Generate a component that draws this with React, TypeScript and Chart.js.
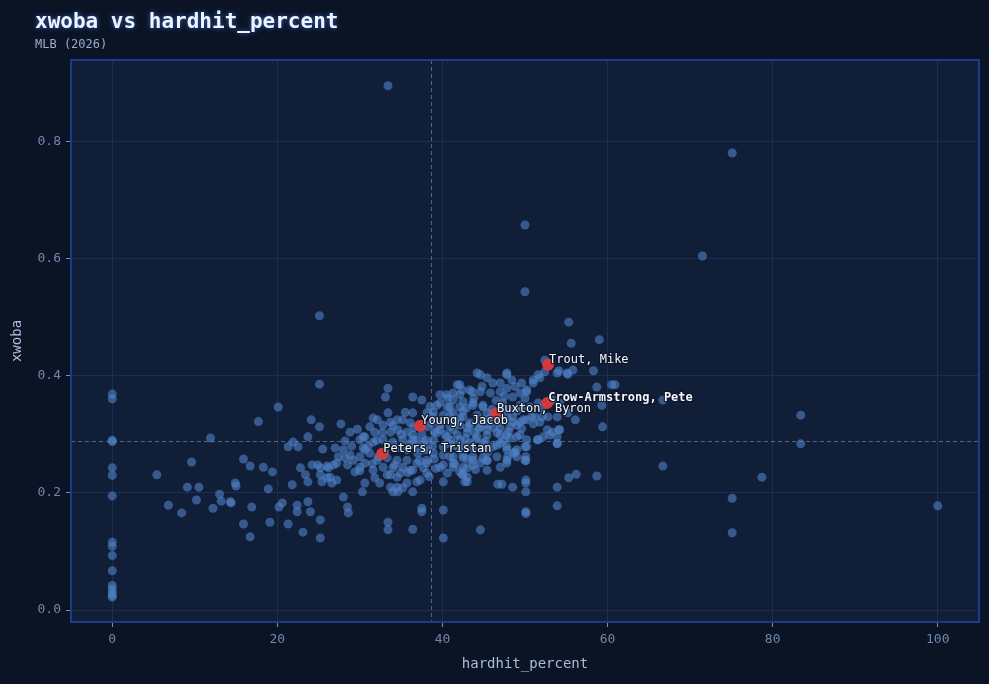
import React, { useEffect, useRef } from "react";
import { Chart, registerables } from "chart.js";

Chart.register(...registerables);

// ---- data ----------------------------------------------------------------

const xTickValues = [0, 20, 40, 60, 80, 100];
const yTickValues = [0, 0.2, 0.4, 0.6, 0.8];

// league averages shown as dashed reference lines
const meanHardhit = 38.6;
const meanXwoba = 0.289;

// batters with no hard-hit balls (hardhit_percent = 0)
const zeroHardhitXwoba = [
  0.369, 0.361, 0.29, 0.288, 0.243, 0.23, 0.195, 0.116, 0.109, 0.093, 0.067,
  0.042, 0.036, 0.03, 0.025, 0.022,
];

// [hardhit_percent, xwoba]
const lowHardhit: [number, number][] = [
  [5.4, 0.231], [6.8, 0.179], [8.4, 0.166], [9.1, 0.21], [9.6, 0.253], [10.2, 0.188],
  [10.5, 0.21], [11.9, 0.294], [12.2, 0.174], [13.0, 0.198], [13.2, 0.186], [14.3, 0.185],
  [14.4, 0.183], [14.9, 0.217], [15.0, 0.212], [15.9, 0.258], [15.9, 0.147], [16.7, 0.246],
  [16.7, 0.125], [16.9, 0.176], [17.7, 0.322], [18.3, 0.244], [18.9, 0.207], [19.1, 0.15],
  [19.4, 0.236], [20.1, 0.347], [20.2, 0.176], [20.6, 0.183], [21.3, 0.147], [21.8, 0.214],
  [21.9, 0.287], [21.3, 0.279], [22.5, 0.279], [22.8, 0.243], [22.4, 0.179], [22.4, 0.168],
  [23.1, 0.133], [23.4, 0.231], [23.7, 0.219], [23.7, 0.185], [23.7, 0.296], [24.0, 0.168],
  [24.1, 0.325], [24.2, 0.248], [24.9, 0.248], [25.1, 0.313], [25.1, 0.386], [25.1, 0.503],
  [25.2, 0.243], [25.2, 0.231], [25.4, 0.219], [25.2, 0.154], [25.2, 0.123], [25.5, 0.275],
  [26.0, 0.246], [26.0, 0.226], [26.2, 0.243], [26.4, 0.227], [26.6, 0.217], [26.8, 0.248],
  [27.0, 0.277], [27.2, 0.222], [27.2, 0.251], [27.4, 0.262], [27.7, 0.318], [28.0, 0.274],
  [28.0, 0.193], [28.2, 0.26], [28.2, 0.289], [28.5, 0.176], [28.5, 0.248], [28.6, 0.166],
  [28.8, 0.265], [28.8, 0.304], [29.2, 0.256], [29.4, 0.236], [29.7, 0.309], [30.0, 0.262],
  [30.0, 0.244], [30.3, 0.202], [30.6, 0.217], [30.6, 0.274], [30.6, 0.296], [31.2, 0.268],
  [33.4, 0.896], [33.4, 0.15], [33.4, 0.137],
];

const coreHardhit: [number, number][] = [
  [44.6, 0.402], [45.4, 0.397], [47.8, 0.402], [48.4, 0.393], [49.6, 0.388], [51.0, 0.393],
  [51.6, 0.402], [52.4, 0.407], [53.9, 0.405], [55.1, 0.405], [55.8, 0.41],
  [41.8, 0.385], [42.4, 0.376], [43.6, 0.373], [45.8, 0.371], [47.0, 0.373], [49.4, 0.371], [50.2, 0.376],
  [39.7, 0.354], [40.6, 0.347], [41.3, 0.359], [42.5, 0.356], [43.7, 0.354], [44.9, 0.35],
  [47.3, 0.354], [48.2, 0.345], [49.4, 0.35], [50.6, 0.347], [51.6, 0.354], [54.2, 0.354],
  [38.1, 0.337], [38.9, 0.33], [40.9, 0.333], [42.1, 0.328], [43.3, 0.32], [44.6, 0.32],
  [45.8, 0.328], [48.5, 0.321], [49.8, 0.325], [51.2, 0.33], [52.8, 0.33], [53.9, 0.33],
  [55.2, 0.337], [56.1, 0.325],
  [38.1, 0.313], [39.7, 0.308], [41.3, 0.308], [43.0, 0.311], [43.9, 0.304], [45.4, 0.308],
  [47.0, 0.299], [48.2, 0.294], [49.4, 0.299], [51.6, 0.291], [53.3, 0.304], [54.2, 0.308], [53.9, 0.285],
  [38.9, 0.291], [40.6, 0.285], [42.1, 0.291], [43.3, 0.285], [44.9, 0.285], [46.6, 0.282],
  [47.8, 0.274], [50.0, 0.279],
  [37.7, 0.274], [38.9, 0.268], [40.9, 0.262], [42.5, 0.26], [43.7, 0.256], [45.4, 0.256],
  [46.6, 0.262], [47.8, 0.251], [50.0, 0.256],
  [38.1, 0.251], [39.7, 0.244], [41.3, 0.244], [43.0, 0.243], [44.6, 0.251], [47.0, 0.244],
  [38.1, 0.234], [40.1, 0.219], [42.4, 0.231], [42.7, 0.219],
  [32.1, 0.325], [32.8, 0.316], [33.7, 0.321], [35.2, 0.325], [36.1, 0.32],
  [31.8, 0.304], [32.7, 0.303], [33.7, 0.304], [34.6, 0.308], [35.7, 0.304], [36.4, 0.299],
  [31.6, 0.287], [32.8, 0.291], [34.0, 0.287], [35.2, 0.291], [36.4, 0.291], [37.7, 0.287],
  [30.4, 0.277], [34.5, 0.277], [35.7, 0.274], [36.9, 0.277], [38.1, 0.274],
  [32.1, 0.256], [33.3, 0.26], [34.5, 0.256], [35.7, 0.256], [36.9, 0.251], [38.1, 0.256],
  [31.6, 0.239], [32.8, 0.244], [34.0, 0.243], [35.2, 0.244], [36.4, 0.239], [37.7, 0.243],
  [31.8, 0.226], [33.3, 0.231], [34.5, 0.227], [35.7, 0.217], [36.9, 0.219],
  [34.5, 0.21], [35.2, 0.209], [36.4, 0.202], [34.6, 0.202],
  [31.2, 0.313], [30.4, 0.296], [30.0, 0.291], [30.6, 0.251], [32.4, 0.217], [33.7, 0.21],
  [34.0, 0.202], [37.3, 0.222], [33.7, 0.231], [34.9, 0.234], [36.1, 0.239],
  [31.6, 0.328], [33.4, 0.379], [33.1, 0.364], [36.4, 0.364], [37.5, 0.359], [33.4, 0.337],
  [36.4, 0.337], [34.5, 0.325],
  [53.9, 0.296], [52.2, 0.296], [52.7, 0.308], [51.8, 0.321], [52.1, 0.33], [50.2, 0.325],
  [49.4, 0.321], [47.3, 0.342], [48.5, 0.364], [50.2, 0.373], [51.0, 0.388], [51.8, 0.397],
  [47.8, 0.379], [47.0, 0.388], [47.8, 0.405], [44.2, 0.405], [46.1, 0.388],
  [42.1, 0.385], [43.3, 0.376], [44.6, 0.373], [41.3, 0.371], [42.1, 0.368], [40.6, 0.362], [39.7, 0.368],
  [39.3, 0.35], [40.9, 0.347], [42.1, 0.347], [43.7, 0.35], [44.9, 0.347],
  [38.9, 0.338], [40.1, 0.333], [41.3, 0.337], [42.5, 0.33], [44.2, 0.333], [45.4, 0.337], [46.1, 0.33],
  [38.7, 0.32], [39.7, 0.316], [40.9, 0.313], [42.1, 0.316], [43.3, 0.316], [44.6, 0.313],
  [45.5, 0.316], [47.8, 0.33], [48.5, 0.33], [47.0, 0.311], [48.2, 0.313], [49.0, 0.316],
  [39.3, 0.303], [40.6, 0.296], [41.8, 0.299], [43.0, 0.303], [44.2, 0.296], [45.4, 0.299],
  [46.6, 0.303], [47.8, 0.299], [49.0, 0.296], [50.2, 0.291], [51.5, 0.291],
  [40.1, 0.279], [41.3, 0.282], [42.5, 0.279], [43.7, 0.277], [44.9, 0.274], [46.1, 0.279],
  [47.8, 0.279], [49.0, 0.274], [50.2, 0.279],
  [40.1, 0.265], [41.3, 0.262], [42.5, 0.265], [43.7, 0.262], [44.9, 0.26], [47.8, 0.256], [49.0, 0.262],
  [40.1, 0.248], [41.3, 0.251], [42.5, 0.244], [43.7, 0.248], [45.4, 0.239],
  [40.6, 0.234], [42.1, 0.236], [43.0, 0.227],
  [34.0, 0.315], [35.0, 0.3], [36.0, 0.283], [37.0, 0.268], [38.0, 0.29], [39.0, 0.305],
  [40.0, 0.322], [41.0, 0.29], [42.0, 0.275], [43.0, 0.258], [44.0, 0.292], [45.0, 0.325],
  [46.0, 0.343], [47.0, 0.322], [48.0, 0.305], [49.0, 0.34], [50.0, 0.362], [51.0, 0.318],
  [52.0, 0.345], [45.5, 0.27], [44.0, 0.24], [41.5, 0.25], [39.0, 0.258], [37.5, 0.3],
  [36.5, 0.312], [35.5, 0.338], [38.5, 0.348], [40.5, 0.368], [42.5, 0.34], [43.8, 0.362],
  [46.5, 0.358], [48.8, 0.382], [49.8, 0.345], [33.0, 0.27], [34.2, 0.248], [35.8, 0.235],
  [37.2, 0.255], [38.4, 0.228], [39.2, 0.242], [40.3, 0.3], [41.6, 0.32], [42.8, 0.293],
  [44.4, 0.31], [45.2, 0.288], [46.2, 0.312], [47.4, 0.29], [48.6, 0.268], [49.6, 0.31],
  [50.8, 0.33], [36.8, 0.29], [38.8, 0.28], [31.0, 0.28], [32.2, 0.262], [31.5, 0.25],
  [30.0, 0.238], [29.0, 0.28], [32.0, 0.29], [44.8, 0.382], [42.9, 0.345], [47.5, 0.365],
];

const highHardhit: [number, number][] = [
  [50.1, 0.262], [50.1, 0.255], [48.8, 0.27], [47.9, 0.262], [47.0, 0.285], [45.4, 0.255],
  [55.3, 0.492], [55.6, 0.456], [59.0, 0.462], [58.3, 0.409], [55.2, 0.403], [54.1, 0.409],
  [52.4, 0.427], [60.5, 0.385], [60.9, 0.385], [58.7, 0.381], [53.4, 0.359], [59.3, 0.35],
  [59.4, 0.313], [54.1, 0.308], [53.0, 0.299], [53.9, 0.284], [66.7, 0.359], [66.7, 0.246],
  [56.2, 0.232], [55.3, 0.226], [58.7, 0.229], [50.1, 0.222], [50.1, 0.217], [46.7, 0.215],
  [47.2, 0.215], [48.5, 0.21], [53.9, 0.21], [50.1, 0.202], [53.9, 0.178], [50.1, 0.168],
  [50.1, 0.165], [42.5, 0.232], [43.0, 0.219], [37.5, 0.174], [37.5, 0.168], [40.1, 0.171],
  [36.4, 0.138], [44.6, 0.137], [40.1, 0.123],
  [83.4, 0.333], [83.4, 0.284], [78.7, 0.227], [75.1, 0.191], [75.1, 0.132], [100, 0.178],
  [75.1, 0.781], [71.5, 0.605], [50.0, 0.658], [50.0, 0.544],
];

// highlighted players
const featuredNames = [
  "Trout, Mike",
  "Crow-Armstrong, Pete",
  "Buxton, Byron",
  "Young, Jacob",
  "Peters, Tristan",
];
const featuredHardhit = [52.8, 52.7, 46.5, 37.3, 32.7];
const featuredXwoba = [0.419, 0.354, 0.336, 0.315, 0.267];
const emphasizedPlayer = "Crow-Armstrong, Pete";

// ---- styling -------------------------------------------------------------

const MONO = "'DejaVu Sans Mono', monospace";
const PAGE_BG = "#0b1424";
const PLOT_BG = "#111e38";
const FRAME = "#1e3a8a";
const GRID = "#1f2e4f";
const TICK_MARK = "#7d8fae";
const TICK_LABEL = "#6f87ad";
const AXIS_TITLE = "#a9bcd9";

const backdrop = {
  id: "backdrop",
  beforeDraw(chart: any) {
    const { ctx, chartArea: a } = chart;
    ctx.save();
    ctx.fillStyle = PAGE_BG;
    ctx.fillRect(0, 0, chart.width, chart.height);
    ctx.fillStyle = PLOT_BG;
    ctx.fillRect(a.left, a.top, a.right - a.left, a.bottom - a.top);
    ctx.restore();
  },
};

const referenceLines = {
  id: "referenceLines",
  beforeDatasetsDraw(chart: any) {
    const { ctx, chartArea: a, scales } = chart;
    const vx = scales.x.getPixelForValue(meanHardhit);
    const hy = scales.y.getPixelForValue(meanXwoba);
    ctx.save();
    ctx.strokeStyle = "rgba(150,170,205,0.5)";
    ctx.lineWidth = 1;
    ctx.setLineDash([4, 3]);
    ctx.beginPath();
    ctx.moveTo(Math.round(vx) + 0.5, a.top);
    ctx.lineTo(Math.round(vx) + 0.5, a.bottom);
    ctx.moveTo(a.left, Math.round(hy) + 0.5);
    ctx.lineTo(a.right, Math.round(hy) + 0.5);
    ctx.stroke();
    ctx.setLineDash([]);
    ctx.strokeStyle = FRAME;
    ctx.lineWidth = 2;
    ctx.strokeRect(a.left, a.top, a.right - a.left, a.bottom - a.top);
    ctx.restore();
  },
};

const playerLabels = {
  id: "playerLabels",
  afterDatasetsDraw(chart: any) {
    const { ctx, scales } = chart;
    ctx.save();
    ctx.textBaseline = "middle";
    ctx.textAlign = "left";
    ctx.lineJoin = "round";
    featuredNames.forEach((name, i) => {
      const px = scales.x.getPixelForValue(featuredHardhit[i]);
      const py = scales.y.getPixelForValue(featuredXwoba[i]);
      ctx.font = `${name === emphasizedPlayer ? "bold " : ""}12px ${MONO}`;
      ctx.lineWidth = 2.5;
      ctx.strokeStyle = "rgba(12,20,38,0.85)";
      ctx.strokeText(name, px + 1, py - 5);
      ctx.fillStyle = "#f2f6fc";
      ctx.fillText(name, px + 1, py - 5);
    });
    ctx.restore();
  },
};

const heading = {
  id: "heading",
  afterDraw(chart: any) {
    const { ctx } = chart;
    ctx.save();
    ctx.textAlign = "left";
    ctx.textBaseline = "alphabetic";
    ctx.font = `bold 21px ${MONO}`;
    ctx.shadowColor = "rgba(70,130,255,0.7)";
    ctx.shadowBlur = 5;
    ctx.fillStyle = "#eef4ff";
    ctx.fillText("xwoba vs hardhit_percent", 35, 28);
    ctx.shadowBlur = 0;
    ctx.shadowColor = "transparent";
    ctx.font = `12px ${MONO}`;
    ctx.fillStyle = "#9aaccb";
    ctx.fillText("MLB (2026)", 35, 48);
    ctx.restore();
  },
};

const toPoints = (rows: [number, number][]) => rows.map(([x, y]) => ({ x, y }));

export default function App() {
  const canvasRef = useRef<HTMLCanvasElement>(null);

  useEffect(() => {
    document.body.style.margin = "0";
    document.body.style.background = PAGE_BG;
    const canvas = canvasRef.current;
    if (!canvas) return;

    const allBatters = [
      ...zeroHardhitXwoba.map((y) => ({ x: 0, y })),
      ...toPoints(lowHardhit),
      ...toPoints(coreHardhit),
      ...toPoints(highHardhit),
    ];
    const featured = featuredNames.map((_, i) => ({
      x: featuredHardhit[i],
      y: featuredXwoba[i],
    }));

    const chart = new Chart(canvas, {
      type: "scatter",
      data: {
        datasets: [
          {
            label: "featured",
            data: featured,
            order: 0,
            pointRadius: 6,
            pointHoverRadius: 6,
            backgroundColor: "rgba(221,58,58,0.95)",
            borderWidth: 0,
          },
          {
            label: "batters",
            data: allBatters,
            order: 1,
            pointRadius: 4.5,
            pointHoverRadius: 4.5,
            backgroundColor: "rgba(80,130,200,0.6)",
            borderWidth: 0,
          },
        ],
      },
      options: {
        responsive: false,
        animation: false,
        devicePixelRatio: 1,
        events: [],
        layout: { padding: { top: 60, right: 10, left: 0, bottom: 0 } },
        plugins: {
          legend: { display: false },
          tooltip: { enabled: false },
          title: { display: false },
        },
        scales: {
          x: {
            type: "linear",
            min: -5,
            max: 105,
            afterBuildTicks: (s: any) => {
              s.ticks = xTickValues.map((value) => ({ value }));
            },
            afterFit: (s: any) => {
              s.height = 62;
            },
            border: { display: false },
            grid: { color: GRID, lineWidth: 1, tickLength: 5, tickColor: TICK_MARK },
            ticks: {
              color: TICK_LABEL,
              padding: 5,
              font: { family: MONO, size: 13 },
              callback: (v: any) => String(v),
            },
            title: {
              display: true,
              text: "hardhit_percent",
              color: AXIS_TITLE,
              font: { family: MONO, size: 14 },
              padding: { top: 0, bottom: 11 },
            },
          },
          y: {
            type: "linear",
            min: -0.0205,
            max: 0.94,
            afterBuildTicks: (s: any) => {
              s.ticks = yTickValues.map((value) => ({ value }));
            },
            afterFit: (s: any) => {
              s.width = 71;
            },
            border: { display: false },
            grid: { color: GRID, lineWidth: 1, tickLength: 5, tickColor: TICK_MARK },
            ticks: {
              color: TICK_LABEL,
              padding: 5,
              font: { family: MONO, size: 13 },
              callback: (v: any) => Number(v).toFixed(1),
            },
            title: {
              display: true,
              text: "xwoba",
              color: AXIS_TITLE,
              font: { family: MONO, size: 14 },
              padding: { top: 9, bottom: 0 },
            },
          },
        },
      },
      plugins: [backdrop, referenceLines, playerLabels, heading],
    } as any);

    return () => chart.destroy();
  }, []);

  return (
    <div style={{ width: 989, height: 684, background: PAGE_BG }}>
      <canvas ref={canvasRef} width={989} height={684} style={{ display: "block" }} />
    </div>
  );
}
